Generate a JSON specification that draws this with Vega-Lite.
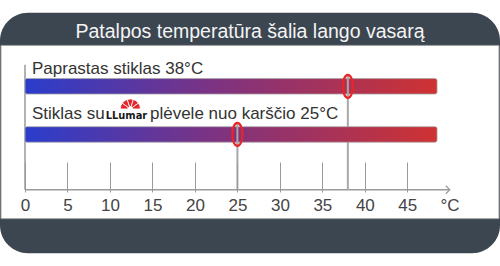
{
  "$schema": "https://vega.github.io/schema/vega-lite/v6.json",
  "width": 500,
  "height": 266,
  "padding": 0,
  "autosize": {"type": "none"},
  "background": "white",
  "config": {"view": {"stroke": null}},
  "encoding": {
    "x": {"type": "quantitative"},
    "y": {"type": "quantitative"}
  },
  "layer": [
    {
      "data": {"values": [{}]},
      "mark": {"type": "rect", "fill": "#3c4651", "cornerRadius": 28},
      "encoding": {
        "x": {"datum": -2.943, "type": "quantitative", "scale": {"domain": [-2.943, 55.91], "nice": false, "zero": false}, "axis": {"orient": "bottom", "offset": -74, "zindex": 2, "values": [0, 5, 10, 15, 20, 25, 30, 35, 40, 45], "domain": false, "grid": false, "tickSize": -30, "tickColor": "#9a9a9a", "tickWidth": 1, "labelFontSize": 17, "labelFont": "Liberation Sans", "labelColor": "#444444", "labelPadding": 48, "labelBaseline": "alphabetic", "labelFlush": false, "labelOverlap": false, "title": null}},
        "x2": {"datum": 55.91},
        "y": {"datum": -0.53, "type": "quantitative", "scale": {"domain": [-0.69, 4.63], "reverse": true, "nice": false, "zero": false}, "axis": null},
        "y2": {"datum": 4.47}
      }
    },
    {
      "data": {"values": [{}]},
      "mark": {"type": "rect", "fill": "white", "stroke": "#a0a0a0", "strokeWidth": 1},
      "encoding": {
        "x": {"datum": -2.825},
        "x2": {"datum": 55.79},
        "y": {"datum": 0.15},
        "y2": {"datum": 3.75}
      }
    },
    {
      "data": {"values": [{"title": "Patalpos temperatūra šalia lango vasarą"}]},
      "mark": {"type": "text", "font": "Liberation Sans", "fontSize": 19.5, "fill": "#f4f4f4", "align": "center", "baseline": "alphabetic"},
      "encoding": {
        "x": {"datum": 26.48},
        "y": {"datum": -0.01},
        "text": {"field": "title"}
      }
    },
    {
      "data": {"values": [{}]},
      "mark": {"type": "rule", "stroke": "#9a9a9a", "strokeWidth": 1.5},
      "encoding": {
        "x": {"datum": 0},
        "x2": {"datum": 50},
        "y": {"datum": 3.15}
      }
    },
    {
      "data": {"values": [{}]},
      "mark": {"type": "rule", "stroke": "#9a9a9a", "strokeWidth": 1.5},
      "encoding": {
        "x": {"datum": 0},
        "y": {"datum": 0.55},
        "y2": {"datum": 3.15}
      }
    },
    {
      "data": {"values": [{}]},
      "mark": {"type": "point", "shape": "M-1,-1L0,0L-1,1", "size": 64, "filled": false, "stroke": "#9a9a9a", "strokeWidth": 1.2, "opacity": 1},
      "encoding": {
        "x": {"datum": 50},
        "y": {"datum": 3.15}
      }
    },
    {
      "data": {"values": [{"unit": "°C"}]},
      "mark": {"type": "text", "font": "Liberation Sans", "fontSize": 17, "fill": "#444444", "align": "center", "baseline": "alphabetic", "dy": 21},
      "encoding": {
        "x": {"datum": 50.02},
        "y": {"datum": 3.15},
        "text": {"field": "unit"}
      }
    },
    {
      "data": {"name": "bars", "values": [
        {"row": 1, "temp": 38, "start": 0, "end": 48.5},
        {"row": 2, "temp": 25, "start": 0, "end": 48.5}
      ]},
      "layer": [
        {
          "mark": {"type": "rule", "stroke": "#a8a8a8", "strokeWidth": 2},
          "encoding": {
            "x": {"field": "temp", "type": "quantitative"},
            "y": {"field": "row", "type": "quantitative"},
            "y2": {"datum": 3.15}
          }
        },
        {
          "mark": {"type": "bar", "height": 15.5, "cornerRadius": 2, "stroke": "#a8a8a8", "strokeWidth": 0.8,
            "fill": {"gradient": "linear", "x1": 0, "x2": 1, "y1": 0, "y2": 0, "stops": [
              {"offset": 0, "color": "#2a3dcc"},
              {"offset": 0.45, "color": "#7b3383"},
              {"offset": 1, "color": "#cf3232"}
            ]}},
          "encoding": {
            "x": {"field": "start", "type": "quantitative"},
            "x2": {"field": "end"},
            "y": {"field": "row", "type": "quantitative"}
          }
        },
        {
          "mark": {"type": "tick", "orient": "vertical", "size": 22, "thickness": 2, "color": "#a8a8a8", "opacity": 1},
          "encoding": {
            "x": {"field": "temp", "type": "quantitative"},
            "y": {"field": "row", "type": "quantitative"}
          }
        },
        {
          "mark": {"type": "point", "shape": "M0,-1A0.44,1 0 1,1 0,1A0.44,1 0 1,1 0,-1Z", "size": 529, "filled": false, "stroke": "#e8262a", "strokeWidth": 2.2, "opacity": 1},
          "encoding": {
            "x": {"field": "temp", "type": "quantitative"},
            "y": {"field": "row", "type": "quantitative"}
          }
        }
      ]
    },
    {
      "data": {"values": [
        {"row": 1, "x": 0.82, "text": "Paprastas stiklas 38°C"}
      ]},
      "mark": {"type": "text", "font": "Liberation Sans", "fontSize": 17, "fill": "#333333", "align": "left", "baseline": "alphabetic", "dy": -12.2},
      "encoding": {
        "x": {"field": "x", "type": "quantitative"},
        "y": {"field": "row", "type": "quantitative"},
        "text": {"field": "text"}
      }
    },
    {
      "data": {"values": [
        {"row": 2, "x": 0.82, "text": "Stiklas su"},
        {"row": 2, "x": 14.71, "text": "plėvele nuo karščio 25°C"}
      ]},
      "mark": {"type": "text", "font": "Liberation Sans", "fontSize": 17, "fill": "#333333", "align": "left", "baseline": "alphabetic", "dy": -15.5},
      "encoding": {
        "x": {"field": "x", "type": "quantitative"},
        "y": {"field": "row", "type": "quantitative"},
        "text": {"field": "text"}
      }
    },
    {
      "data": {"values": [{"row": 2, "x": 9.5, "text": "LLumar"}]},
      "mark": {"type": "text", "font": "DejaVu Sans Condensed", "fontWeight": "bold", "fontSize": 11, "fill": "#1a1a1a", "align": "left", "baseline": "alphabetic", "dy": -15.5},
      "encoding": {
        "x": {"field": "x", "type": "quantitative"},
        "y": {"field": "row", "type": "quantitative"},
        "text": {"field": "text"}
      }
    },
    {
      "data": {"values": [{"seg": 1, "w": 1}, {"seg": 2, "w": 1}, {"seg": 3, "w": 1}, {"seg": 4, "w": 1}, {"seg": 5, "w": 1}]},
      "mark": {"type": "arc", "outerRadius": 10, "innerRadius": 2.5, "fill": "#e3262b", "stroke": "white", "strokeWidth": 0.8},
      "encoding": {
        "theta": {"field": "w", "type": "quantitative", "stack": true, "scale": {"range": [-1.5708, 1.5708]}},
        "order": {"field": "seg"},
        "x": {"datum": 12.4},
        "y": {"datum": 1.47}
      }
    }
  ]
}
